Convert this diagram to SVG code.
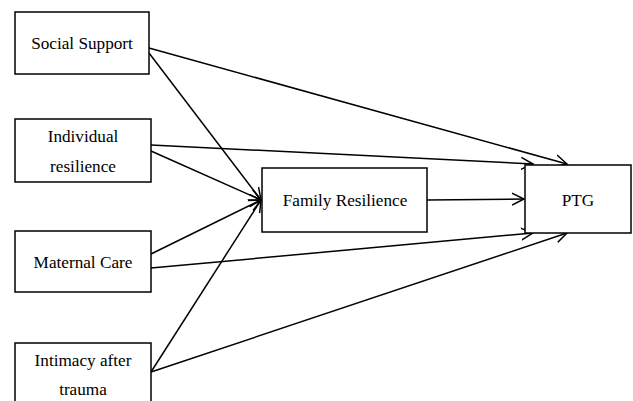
<svg xmlns="http://www.w3.org/2000/svg" width="633" height="401" viewBox="0 0 633 401">
<style>
.box{fill:#fff;stroke:#000;stroke-width:1.5}
.t{font-family:'Liberation Serif','Times New Roman',serif;font-size:17.2px;fill:#000;text-anchor:middle}
.c line{stroke:#000;stroke-width:1.5;marker-end:url(#ah)}
</style>
<defs>
<marker id="ah" markerUnits="userSpaceOnUse" markerWidth="14" markerHeight="14" refX="12" refY="6" orient="auto" viewBox="0 0 14 12">
<path d="M0,0 L12,6 L0,12" fill="none" stroke="#000" stroke-width="1.5"/>
</marker>
</defs>
<g class="c" id="connectors">
<line x1="149" y1="48" x2="567" y2="164"/>
<line x1="149" y1="53" x2="261" y2="200"/>
<line x1="151" y1="145" x2="533" y2="164"/>
<line x1="151" y1="151" x2="261" y2="200"/>
<line x1="151" y1="254" x2="261" y2="200"/>
<line x1="151" y1="268" x2="533" y2="233"/>
<line x1="151" y1="372" x2="261" y2="200"/>
<line x1="151" y1="372" x2="567" y2="233"/>
<line x1="427" y1="200" x2="524" y2="199"/>
</g>
<g id="social"><rect class="box" x="15" y="12" width="134" height="62"/><text class="t" x="82" y="49">Social Support</text></g>
<g id="individual"><rect class="box" x="15" y="119" width="136" height="63"/><text class="t" x="83" y="142">Individual</text><text class="t" x="83" y="172">resilience</text></g>
<g id="maternal"><rect class="box" x="15" y="231" width="136" height="61"/><text class="t" x="83" y="268">Maternal Care</text></g>
<g id="intimacy"><rect class="box" x="15" y="343" width="136" height="70"/><text class="t" x="83" y="366">Intimacy after</text><text class="t" x="83" y="395">trauma</text></g>
<g id="family"><rect class="box" x="262" y="168" width="165" height="64"/><text class="t" x="345" y="206">Family Resilience</text></g>
<g id="ptg"><rect class="box" x="525" y="165" width="106" height="68"/><text class="t" x="578" y="206">PTG</text></g>
</svg>
